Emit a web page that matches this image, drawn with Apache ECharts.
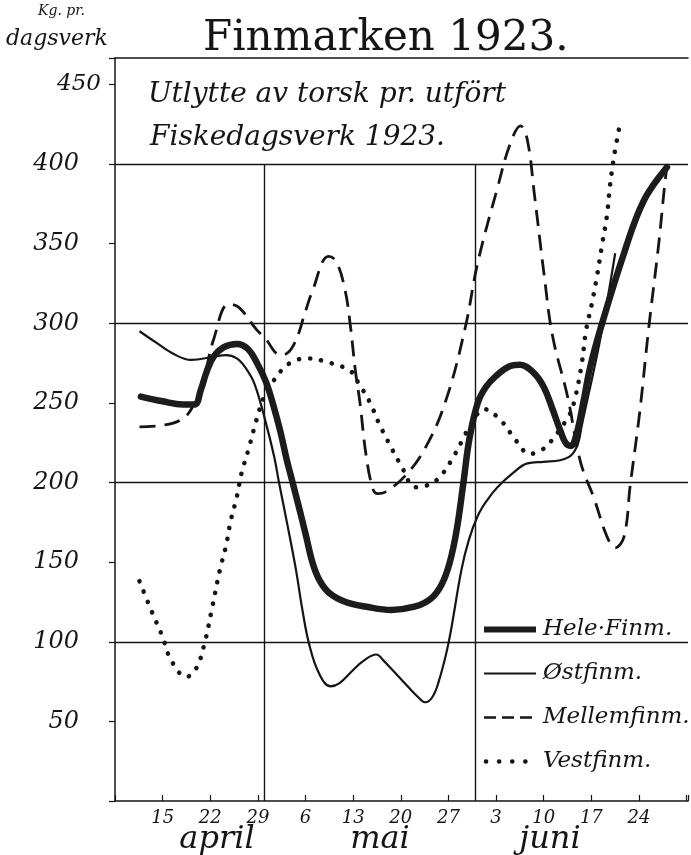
<!DOCTYPE html>
<html>
<head>
<meta charset="utf-8">
<script src="https://cdn.jsdelivr.net/npm/echarts@6/dist/echarts.min.js"></script>
<style>
html,body{margin:0;padding:0;background:#fff;}
#chart{width:691px;height:855px;}
</style>
</head>
<body>
<div id="chart"></div>
<script>
// x = days since 1 April 1923 (15 April = 14, 6 May = 35, 3 June = 63)
var xTickValues = [14, 21, 28, 35, 42, 49, 56, 63, 70, 77, 84];
var xTickLabels = ['15', '22', '29', '6', '13', '20', '27', '3', '10', '17', '24'];
var monthNames = ['april', 'mai', 'juni'];
var monthBoundaries = [29, 60];
var yTickValues = [50, 100, 150, 200, 250, 300, 350, 400, 450];
var gridLineValues = [100, 200, 300, 400];
var seriesNames = ['Hele·Finm.', 'Østfinm.', 'Mellemfinm.', 'Vestfinm.'];

var heleFinm = [[10.8,254],[14,251],[17,249],[18.7,249],[19.6,258],[20.5,270],[21.5,279],[23,285],[24.9,287],[26.5,284],[28,274],[29.2,263],[30.3,248],[31.3,232],[32.2,215],[33.1,200],[34,185],[35.1,166],[36,150],[37,139],[38.4,131],[40.9,125],[44,122],[47.6,120],[51,122],[53.4,127],[55,136],[56.2,150],[57.2,170],[58.2,200],[59.1,228],[60.3,250],[61.5,260],[63,267],[65,273],[66.5,274],[68.5,269],[70,260],[71.3,246],[72.4,233],[73.2,225],[74,223],[74.8,230],[75.8,250],[76.8,272],[78.3,296],[81.8,344],[84.7,377],[88.1,398]];
var ostFinm = [[10.6,295],[13,288],[15.5,281],[18.2,277],[21.5,279],[23.3,280],[24.9,278],[26.2,272],[27.5,262],[29.2,237],[30.4,216],[31.1,200],[32.4,172],[33.6,145],[34.5,121],[35.5,99],[37,80],[38.7,72],[40,74],[41.7,81],[43.5,88],[45.4,92],[46.5,88],[47.6,83],[50,72],[51.6,65],[52.6,62],[53.6,65],[54.5,74],[56,99],[57.9,145],[59,164],[60.3,179],[61.7,189],[63.2,197],[65.5,206],[67.6,212],[70,213],[72.4,214],[74,217],[75,224],[75.6,236],[78.3,290],[80.5,344]];
var mellemFinm = [[10.6,235],[14,236],[16.5,239],[18.2,246],[20,265],[21.5,290],[23.7,312],[25.2,310],[27.8,296],[29.2,290],[30.5,282],[31.5,280],[33.2,286],[35.1,309],[35.9,319],[38.4,342],[39.5,339],[40.8,321],[41.6,298],[42.3,271],[43,250],[43.9,217],[44.9,196],[45.6,193],[46.7,194],[49.6,204],[52.5,221],[55.5,250],[58.4,296],[60.3,338],[63.2,385],[65.1,413],[66.6,424],[67.6,415],[68.6,382],[70.1,329],[71.3,292],[73.5,254],[75.4,213],[77.4,190],[79.3,166],[80.5,159],[81.8,166],[82.7,198],[84.1,244],[85.4,296],[86.9,350],[87.8,388],[88.1,398]];
var vestFinm = [[10.6,138],[12.5,118],[14,103],[15.3,88],[17.5,78],[18.9,83],[20.1,98],[21.3,122],[22.4,145],[23.3,160],[24,176],[24.9,191],[25.6,206],[26.7,222],[27.7,238],[28.9,254],[30,262],[31.8,272],[33.2,276],[35,278],[38.7,275],[41.6,270],[42.7,263],[44.5,250],[45.7,238],[47.1,226],[49,211],[51.2,197],[52.7,198],[54.4,202],[56.3,213],[58.1,227],[59.1,235],[61.3,246],[63.9,238],[65.8,227],[68,218],[69.5,220],[70.9,225],[73.7,242],[74.5,251],[75.6,275],[76.2,295],[77.1,313],[77.8,329],[78.6,350],[79.3,368],[79.7,385],[80.3,404],[81.1,423]];

var INK = '#151515';
var serif = '"DejaVu Serif", "Liberation Serif", serif';

var chart = echarts.init(document.getElementById('chart'), null, {renderer: 'canvas'});

var gridLinesData = gridLineValues.map(function (v) { return {yAxis: v}; });
monthBoundaries.forEach(function (x) {
  gridLinesData.push([{coord: [x, 0]}, {coord: [x, 400]}]);
});

var styles = [
  {color: '#1c1c1c', width: 6.5, cap: 'round', join: 'round'},
  {color: INK, width: 2.2, join: 'round'},
  {color: INK, width: 2.8, type: [16, 9], cap: 'butt'},
  {color: INK, width: 4.6, type: [0.1, 11], cap: 'round'}
];
var legendStyles = [
  {color: '#1c1c1c', width: 6, cap: 'butt'},
  {color: INK, width: 2.2},
  {color: INK, width: 2.6, type: [12, 6], cap: 'butt'},
  {color: INK, width: 4.6, type: [0.1, 13], cap: 'round', dashOffset: -2}
];
var seriesData = [heleFinm, ostFinm, mellemFinm, vestFinm];

var series = seriesNames.map(function (name, i) {
  return {
    name: name, type: 'line', data: seriesData[i], symbol: 'none', smooth: 0.4,
    color: INK, lineStyle: styles[i], z: i === 0 ? 4 : 3, animation: false
  };
});
series.push({
  name: 'grid', type: 'line', data: [], symbol: 'none', silent: true,
  markLine: {
    silent: true, symbol: ['none', 'none'], label: {show: false},
    lineStyle: {color: INK, width: 1.4, type: 'solid'},
    data: gridLinesData, animation: false
  }
});

chart.setOption({
  animation: false,
  backgroundColor: '#fff',
  grid: {left: 115, right: 0, top: 58, bottom: 54, containLabel: false},
  xAxis: [{
    type: 'value', min: 7, max: 91.2, interval: 7,
    axisLine: {show: true, lineStyle: {color: INK, width: 1.5}},
    axisTick: {show: true, inside: true, length: 6, lineStyle: {color: INK, width: 1.2}},
    splitLine: {show: false},
    axisLabel: {
      margin: 8, color: INK, fontFamily: serif, fontStyle: 'italic', fontSize: 18,
      formatter: function (v) { var i = xTickValues.indexOf(v); return i >= 0 ? xTickLabels[i] : ''; }
    }
  }, {
    type: 'value', position: 'top', min: 7, max: 91.2,
    axisLine: {show: true, lineStyle: {color: INK, width: 1.5}},
    axisTick: {show: false}, axisLabel: {show: false}, splitLine: {show: false}
  }],
  yAxis: {
    type: 'value', min: 0, max: 466.6, interval: 50,
    axisLine: {show: true, lineStyle: {color: INK, width: 1.5}},
    axisTick: {show: true, length: 6, lineStyle: {color: INK, width: 1.2}},
    splitLine: {show: false},
    axisLabel: {
      margin: 14, color: INK, fontFamily: serif, fontStyle: 'italic', fontSize: 24,
      formatter: function (v) {
        if (yTickValues.indexOf(v) < 0) return '';
        return v === 450 ? '{t|' + v + '}' : '{n|' + v + '}';
      },
      rich: {
        t: {fontFamily: serif, fontStyle: 'italic', fontSize: 23, color: INK},
        n: {fontFamily: serif, fontStyle: 'italic', fontSize: 24, color: INK, padding: [0, 22, 0, 0]}
      }
    }
  },
  legend: {
    data: seriesNames.map(function (n, i) { return {name: n, lineStyle: legendStyles[i]}; }),
    orient: 'vertical', left: 476, top: 613,
    itemWidth: 52, itemHeight: 16, itemGap: 21,
    itemStyle: {opacity: 0},
    textStyle: {fontFamily: serif, fontStyle: 'italic', fontSize: 23, color: INK, padding: [0, 0, 0, 2]},
    selectedMode: false
  },
  series: series,
  graphic: [
    {type: 'text', left: 203, top: 18, style: {text: 'Finmarken 1923.', font: '42px ' + serif, fill: INK}},
    {type: 'text', left: 38, top: 4, style: {text: 'Kg. pr.', font: 'italic 14px ' + serif, fill: INK}},
    {type: 'text', left: 6, top: 28, style: {text: 'dagsverk', font: 'italic 22px ' + serif, fill: INK}},
    {type: 'text', left: 148, top: 81, style: {text: 'Utlytte av torsk pr. utfört', font: 'italic 28px ' + serif, fill: INK}},
    {type: 'text', left: 150, top: 124, style: {text: 'Fiskedagsverk 1923.', font: 'italic 28px ' + serif, fill: INK}},
    {type: 'text', x: 217, y: 840, style: {text: monthNames[0], font: 'italic 32px ' + serif, fill: INK, align: 'center', verticalAlign: 'middle'}},
    {type: 'text', x: 380, y: 840, style: {text: monthNames[1], font: 'italic 32px ' + serif, fill: INK, align: 'center', verticalAlign: 'middle'}},
    {type: 'text', x: 550, y: 840, style: {text: monthNames[2], font: 'italic 32px ' + serif, fill: INK, align: 'center', verticalAlign: 'middle'}}
  ]
});
</script>
</body>
</html>
